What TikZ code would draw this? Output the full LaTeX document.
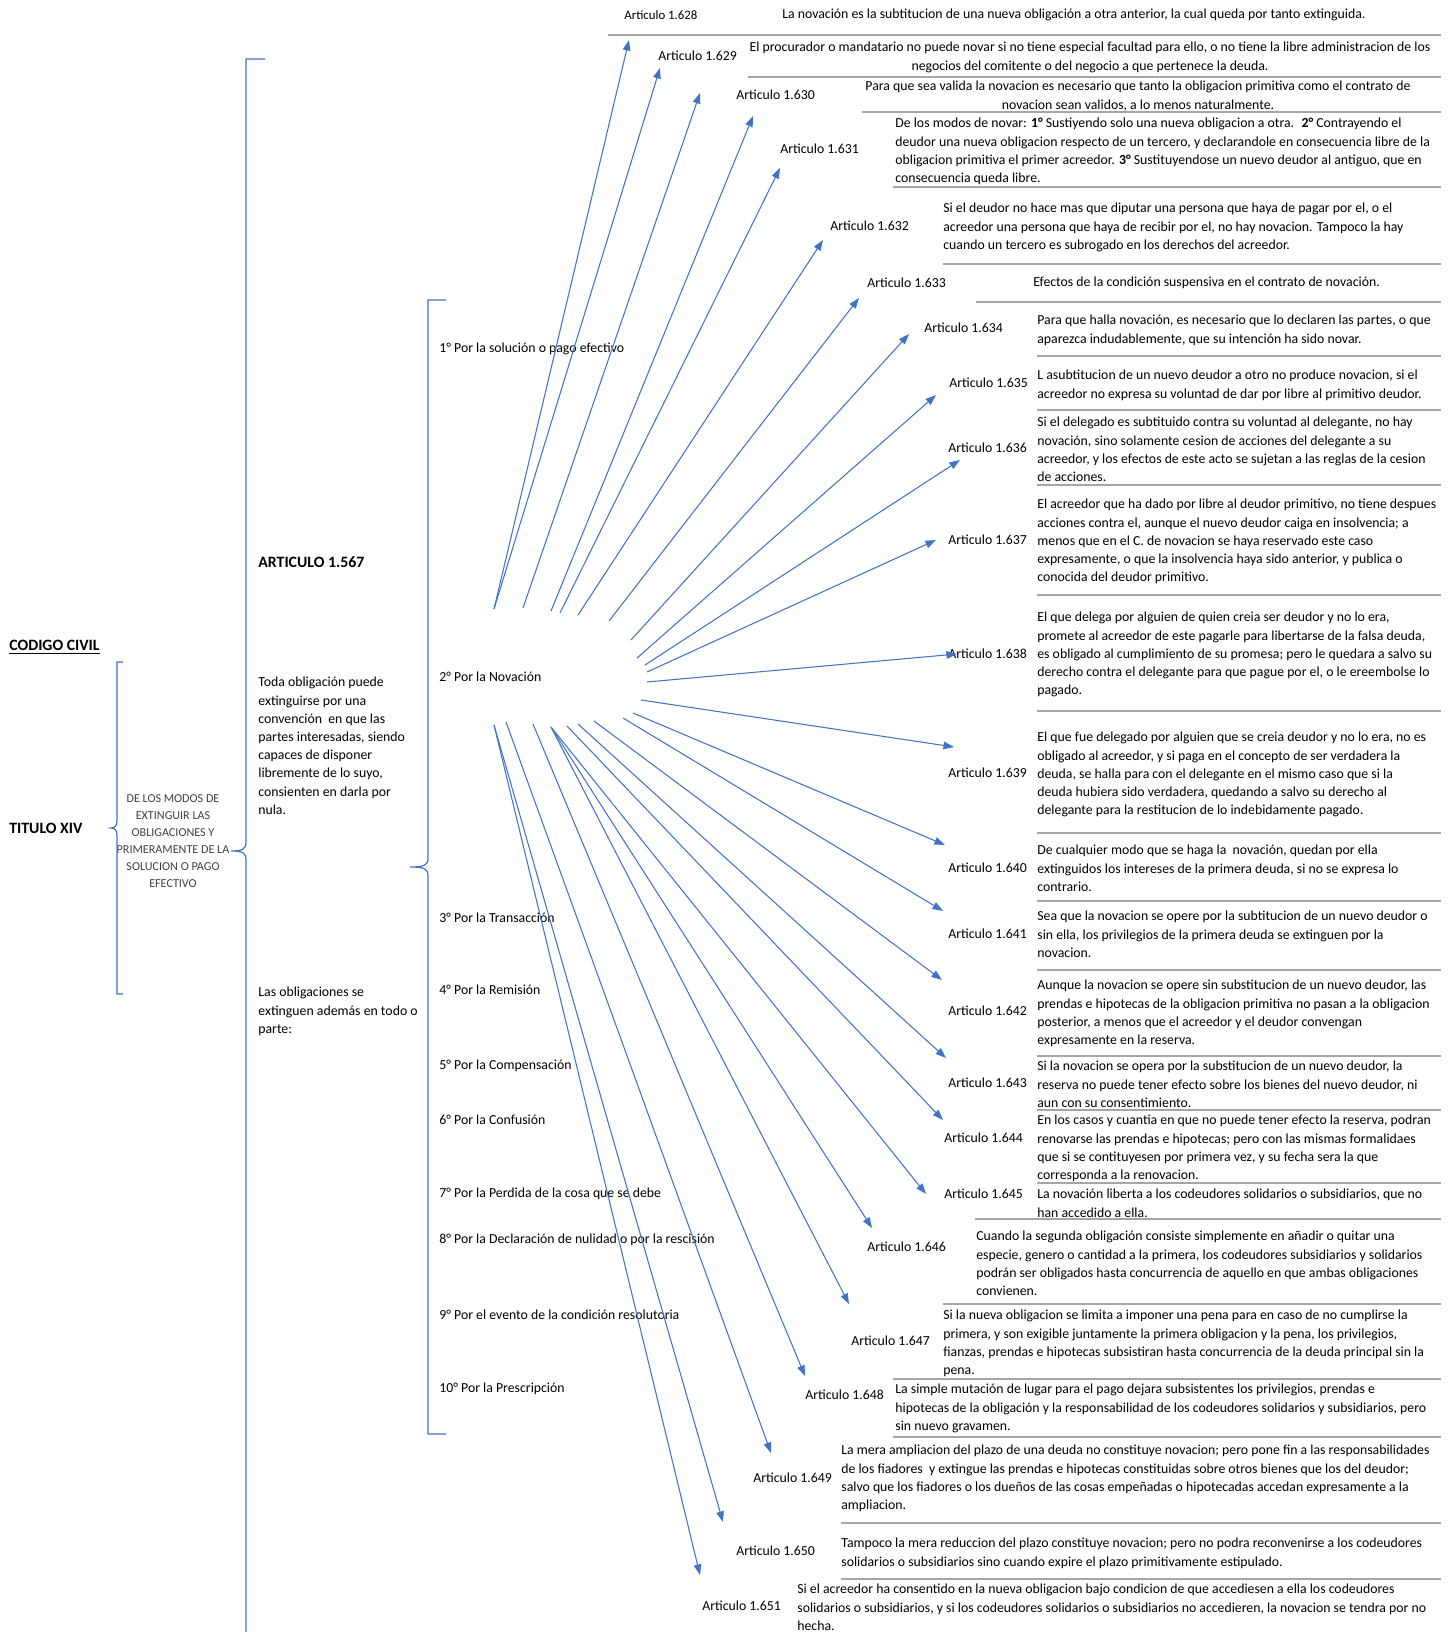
\documentclass[tikz,border=0pt]{standalone}
\usepackage{fontspec}
\setmainfont{Carlito}
\usetikzlibrary{arrows.meta}
\definecolor{azul}{HTML}{4472C4}
\definecolor{gris}{HTML}{A6A6A6}

\begin{document}
\begin{tikzpicture}[x=0.02cm, y=-0.02cm,
  texto/.style={inner sep=0pt, font=\fontsize{7.85}{10.35}\selectfont, align=left, anchor=north west},
  centro/.style={inner sep=0pt, font=\fontsize{7.85}{10.35}\selectfont, align=center, anchor=north},
  art/.style={inner sep=0pt, font=\fontsize{7.85}{10.35}\selectfont, anchor=west},
  titulo/.style={inner sep=0pt, font=\fontsize{9}{11}\selectfont\bfseries, anchor=west},
  flecha/.style={-{Triangle[length=6pt, width=4.3pt]}, color=azul, line width=0.6pt},
  llave/.style={color=azul, line width=0.7pt},
  sep/.style={color=gris, line width=0.9pt}]
\useasboundingbox (0,0) rectangle (1449,1632);

% izquierda
\node[titulo] (codigo) at (9,647) {\underline{CODIGO CIVIL}};
\node[titulo] (titulo) at (9,828) {TITULO XIV};
\node[inner sep=0pt, font=\fontsize{6.9}{9.7}\selectfont, align=center, text=black!75] (modos) at (173,841) {DE LOS MODOS DE\\EXTINGUIR LAS\\OBLIGACIONES Y\\PRIMERAMENTE DE LA\\SOLUCION O PAGO\\EFECTIVO};
\node[titulo] (art1567) at (258,562) {ARTICULO 1.567};
\node[texto] (toda) at (258,677) {Toda obligación puede\\extinguirse por una\\convención \ en que las\\partes interesadas, siendo\\capaces de disponer\\libremente de lo suyo,\\consienten en darla por\\nula.};
\node[texto] (lasobl) at (258,987) {Las obligaciones se\\extinguen además en todo o\\parte:};

% llaves
\draw[llave] (123,662) -- (117,662) -- (117,820) .. controls (117,826) and (115,828) .. (111,828) .. controls (115,828) and (117,830) .. (117,836) -- (117,994) -- (123,994);
\draw[llave] (265,59) -- (246,59) -- (246,842) .. controls (246,849) and (243,851) .. (231,851) .. controls (243,851) and (246,853) .. (246,860) -- (246,1640);
\draw[llave] (446,300) -- (428,300) -- (428,858) .. controls (428,865) and (425,867) .. (410,867) .. controls (425,867) and (428,869) .. (428,876) -- (428,1434) -- (446,1434);

% modos de extinguir
\node[art] (p1) at (439,349) {1° Por la solución o pago efectivo};
\node[art] (p2) at (439,677) {2° Por la Novación};
\node[art] (p3) at (439,918) {3° Por la Transacción};
\node[art] (p4) at (439,990) {4° Por la Remisión};
\node[art] (p5) at (439,1066) {5° Por la Compensación};
\node[art] (p6) at (439,1120) {6° Por la Confusión};
\node[art] (p7) at (439,1194) {7° Por la Perdida de la cosa que se debe};
\node[art] (p8) at (439,1240) {8° Por la Declaración de nulidad o por la rescisión};
\node[art] (p9) at (439,1315) {9° Por el evento de la condición resolutoria};
\node[art] (p10) at (439,1389) {10° Por la Prescripción};

% articulos
\node[art, font=\fontsize{7.3}{9}\selectfont] (a1628) at (624,15) {Articulo 1.628};
\node[art] (t1628) at (782,15) {La novación es la subtitucion de una nueva obligación a otra anterior, la cual queda por tanto extinguida.};
\node[art] (a1629) at (658,56) {Articulo 1.629};
\node[centro] (t1629) at (1090,42) {El procurador o mandatario no puede novar si no tiene especial facultad para ello, o no tiene la libre administracion de los\\negocios del comitente o del negocio a que pertenece la deuda.};
\node[art] (a1630) at (736,95) {Articulo 1.630};
\node[centro] (t1630) at (1138,81) {Para que sea valida la novacion es necesario que tanto la obligacion primitiva como el contrato de\\novacion sean validos, a lo menos naturalmente.};
\node[art] (a1631) at (780,149) {Articulo 1.631};
\node[texto] (t1631) at (895,118) {De los modos de novar: \textbf{1°} Sustiyendo solo una nueva obligacion a otra. \ \textbf{2°} Contrayendo el\\deudor una nueva obligacion respecto de un tercero, y declarandole en consecuencia libre de la\\obligacion primitiva el primer acreedor. \textbf{3°} Sustituyendose un nuevo deudor al antiguo, que en\\consecuencia queda libre.};
\node[art] (a1632) at (830,226) {Articulo 1.632};
\node[texto] (t1632) at (943,203) {Si el deudor no hace mas que diputar una persona que haya de pagar por el, o el\\acreedor una persona que haya de recibir por el, no hay novacion. Tampoco la hay\\cuando un tercero es subrogado en los derechos del acreedor.};
\node[art] (a1633) at (867,283) {Articulo 1.633};
\node[art] (t1633) at (1033,283) {Efectos de la condición suspensiva en el contrato de novación.};
\node[art] (a1634) at (924,328) {Articulo 1.634};
\node[texto] (t1634) at (1037,315) {Para que halla novación, es necesario que lo declaren las partes, o que\\aparezca indudablemente, que su intención ha sido novar.};
\node[art] (a1635) at (949,383) {Articulo 1.635};
\node[texto] (t1635) at (1037,370) {L asubtitucion de un nuevo deudor a otro no produce novacion, si el\\acreedor no expresa su voluntad de dar por libre al primitivo deudor.};
\node[art] (a1636) at (948,448) {Articulo 1.636};
\node[texto] (t1636) at (1037,417) {Si el delegado es subtituido contra su voluntad al delegante, no hay\\novación, sino solamente cesion de acciones del delegante a su\\acreedor, y los efectos de este acto se sujetan a las reglas de la cesion\\de acciones.};
\node[art] (a1637) at (948,540) {Articulo 1.637};
\node[texto] (t1637) at (1037,499) {El acreedor que ha dado por libre al deudor primitivo, no tiene despues\\acciones contra el, aunque el nuevo deudor caiga en insolvencia; a\\menos que en el C. de novacion se haya reservado este caso\\expresamente, o que la insolvencia haya sido anterior, y publica o\\conocida del deudor primitivo.};
\node[art] (a1638) at (948,654) {Articulo 1.638};
\node[texto] (t1638) at (1037,612) {El que delega por alguien de quien creia ser deudor y no lo era,\\promete al acreedor de este pagarle para libertarse de la falsa deuda,\\es obligado al cumplimiento de su promesa; pero le quedara a salvo su\\derecho contra el delegante para que pague por el, o le ereembolse lo\\pagado.};
\node[art] (a1639) at (948,773) {Articulo 1.639};
\node[texto] (t1639) at (1037,732) {El que fue delegado por alguien que se creia deudor y no lo era, no es\\obligado al acreedor, y si paga en el concepto de ser verdadera la\\deuda, se halla para con el delegante en el mismo caso que si la\\deuda hubiera sido verdadera, quedando a salvo su derecho al\\delegante para la restitucion de lo indebidamente pagado.};
\node[art] (a1640) at (948,868) {Articulo 1.640};
\node[texto] (t1640) at (1037,845) {De cualquier modo que se haga la \ novación, quedan por ella\\extinguidos los intereses de la primera deuda, si no se expresa lo\\contrario.};
\node[art] (a1641) at (948,934) {Articulo 1.641};
\node[texto] (t1641) at (1037,911) {Sea que la novacion se opere por la subtitucion de un nuevo deudor o\\sin ella, los privilegios de la primera deuda se extinguen por la\\novacion.};
\node[art] (a1642) at (948,1011) {Articulo 1.642};
\node[texto] (t1642) at (1037,980) {Aunque la novacion se opere sin substitucion de un nuevo deudor, las\\prendas e hipotecas de la obligacion primitiva no pasan a la obligacion\\posterior, a menos que el acreedor y el deudor convengan\\expresamente en la reserva.};
\node[art] (a1643) at (948,1083) {Articulo 1.643};
\node[texto] (t1643) at (1037,1061) {Si la novacion se opera por la substitucion de un nuevo deudor, la\\reserva no puede tener efecto sobre los bienes del nuevo deudor, ni\\aun con su consentimiento.};
\node[art] (a1644) at (944,1138) {Articulo 1.644};
\node[texto] (t1644) at (1037,1115) {En los casos y cuantia en que no puede tener efecto la reserva, podran\\renovarse las prendas e hipotecas; pero con las mismas formalidaes\\que si se contituyesen por primera vez, y su fecha sera la que\\corresponda a la renovacion.};
\node[art] (a1645) at (944,1194) {Articulo 1.645};
\node[texto] (t1645) at (1037,1189) {La novación liberta a los codeudores solidarios o subsidiarios, que no\\han accedido a ella.};
\node[art] (a1646) at (867,1247) {Articulo 1.646};
\node[texto] (t1646) at (976,1231) {Cuando la segunda obligación consiste simplemente en añadir o quitar una\\especie, genero o cantidad a la primera, los codeudores subsidiarios y solidarios\\podrán ser obligados hasta concurrencia de aquello en que ambas obligaciones\\convienen.};
\node[art] (a1647) at (851,1341) {Articulo 1.647};
\node[texto] (t1647) at (943,1310) {Si la nueva obligacion se limita a imponer una pena para en caso de no cumplirse la\\primera, y son exigible juntamente la primera obligacion y la pena, los privilegios,\\fianzas, prendas e hipotecas subsistiran hasta concurrencia de la deuda principal sin la\\pena.};
\node[art] (a1648) at (805,1395) {Articulo 1.648};
\node[texto] (t1648) at (895,1384) {La simple mutación de lugar para el pago dejara subsistentes los privilegios, prendas e\\hipotecas de la obligación y la responsabilidad de los codeudores solidarios y subsidiarios, pero\\sin nuevo gravamen.};
\node[art] (a1649) at (753,1478) {Articulo 1.649};
\node[texto] (t1649) at (841,1445) {La mera ampliacion del plazo de una deuda no constituye novacion; pero pone fin a las responsabilidades\\de los fiadores \ y extingue las prendas e hipotecas constituidas sobre otros bienes que los del deudor;\\salvo que los fiadores o los dueños de las cosas empeñadas o hipotecadas accedan expresamente a la\\ampliacion.};
\node[art] (a1650) at (736,1551) {Articulo 1.650};
\node[texto] (t1650) at (841,1538) {Tampoco la mera reduccion del plazo constituye novacion; pero no podra reconvenirse a los codeudores\\solidarios o subsidiarios sino cuando expire el plazo primitivamente estipulado.};
\node[art] (a1651) at (702,1606) {Articulo 1.651};
\node[texto] (t1651) at (797,1584) {Si el acreedor ha consentido en la nueva obligacion bajo condicion de que accediesen a ella los codeudores\\solidarios o subsidiarios, y si los codeudores solidarios o subsidiarios no accedieren, la novacion se tendra por no\\hecha.};

% lineas separadoras
\draw[sep] (608,35) -- (1441,35);
\draw[sep] (748,77) -- (1441,77);
\draw[sep] (862,112) -- (1441,112);
\draw[sep] (893,187) -- (1441,187);
\draw[sep] (943,264) -- (1441,264);
\draw[sep] (976,302) -- (1441,302);
\draw[sep] (1037,356) -- (1441,356);
\draw[sep] (1037,410) -- (1441,410);
\draw[sep] (1037,485) -- (1441,485);
\draw[sep] (1037,595) -- (1441,595);
\draw[sep] (1037,711) -- (1441,711);
\draw[sep] (1037,833) -- (1441,833);
\draw[sep] (1037,901) -- (1441,901);
\draw[sep] (1037,970) -- (1441,970);
\draw[sep] (1037,1056) -- (1441,1056);
\draw[sep] (1037,1110) -- (1441,1110);
\draw[sep] (1037,1183) -- (1441,1183);
\draw[sep] (975,1219) -- (1441,1219);
\draw[sep] (943,1304) -- (1441,1304);
\draw[sep] (893,1379) -- (1441,1379);
\draw[sep] (893,1437) -- (1441,1437);
\draw[sep] (841,1523) -- (1441,1523);
\draw[sep] (841,1579) -- (1441,1579);

% flechas de la novacion
\coordinate (s1628) at (494,609);  \coordinate (e1628) at (629,40);
\coordinate (s1629) at (494,609);  \coordinate (e1629) at (660,68);
\coordinate (s1630) at (523,608);  \coordinate (e1630) at (700,93);
\coordinate (s1630b) at (551,611); \coordinate (e1630b) at (753,116);
\coordinate (s1631) at (560,613);  \coordinate (e1631) at (780,168);
\coordinate (s1632) at (578,615);  \coordinate (e1632) at (823,240);
\coordinate (s1633) at (609,621);  \coordinate (e1633) at (859,298);
\coordinate (s1634) at (631,640);  \coordinate (e1634) at (909,334);
\coordinate (s1635) at (637,658);  \coordinate (e1635) at (936,395);
\coordinate (s1636) at (645,665);  \coordinate (e1636) at (960,460);
\coordinate (s1637) at (647,672);  \coordinate (e1637) at (936,540);
\coordinate (s1638) at (647,682);  \coordinate (e1638) at (957,654);
\coordinate (s1639) at (641,700);  \coordinate (e1639) at (954,747);
\coordinate (s1640) at (633,713);  \coordinate (e1640) at (945,845);
\coordinate (s1641) at (623,718);  \coordinate (e1641) at (943,911);
\coordinate (s1642) at (594,721);  \coordinate (e1642) at (942,980);
\coordinate (s1643) at (578,724);  \coordinate (e1643) at (946,1058);
\coordinate (s1644) at (567,726);  \coordinate (e1644) at (943,1120);
\coordinate (s1645) at (551,727);  \coordinate (e1645) at (926,1194);
\coordinate (s1646) at (551,727);  \coordinate (e1646) at (872,1228);
\coordinate (s1647) at (551,727);  \coordinate (e1647) at (849,1304);
\coordinate (s1648) at (533,724);  \coordinate (e1648) at (805,1376);
\coordinate (s1649) at (506,722);  \coordinate (e1649) at (771,1453);
\coordinate (s1650) at (494,725);  \coordinate (e1650) at (723,1522);
\coordinate (s1651) at (494,725);  \coordinate (e1651) at (700,1575);
\draw[flecha] (s1628) -- (e1628);
\draw[flecha] (s1629) -- (e1629);
\draw[flecha] (s1630) -- (e1630);
\draw[flecha] (s1630b) -- (e1630b);
\draw[flecha] (s1631) -- (e1631);
\draw[flecha] (s1632) -- (e1632);
\draw[flecha] (s1633) -- (e1633);
\draw[flecha] (s1634) -- (e1634);
\draw[flecha] (s1635) -- (e1635);
\draw[flecha] (s1636) -- (e1636);
\draw[flecha] (s1637) -- (e1637);
\draw[flecha] (s1638) -- (e1638);
\draw[flecha] (s1639) -- (e1639);
\draw[flecha] (s1640) -- (e1640);
\draw[flecha] (s1641) -- (e1641);
\draw[flecha] (s1642) -- (e1642);
\draw[flecha] (s1643) -- (e1643);
\draw[flecha] (s1644) -- (e1644);
\draw[flecha] (s1645) -- (e1645);
\draw[flecha] (s1646) -- (e1646);
\draw[flecha] (s1647) -- (e1647);
\draw[flecha] (s1648) -- (e1648);
\draw[flecha] (s1649) -- (e1649);
\draw[flecha] (s1650) -- (e1650);
\draw[flecha] (s1651) -- (e1651);
\end{tikzpicture}
\end{document}
